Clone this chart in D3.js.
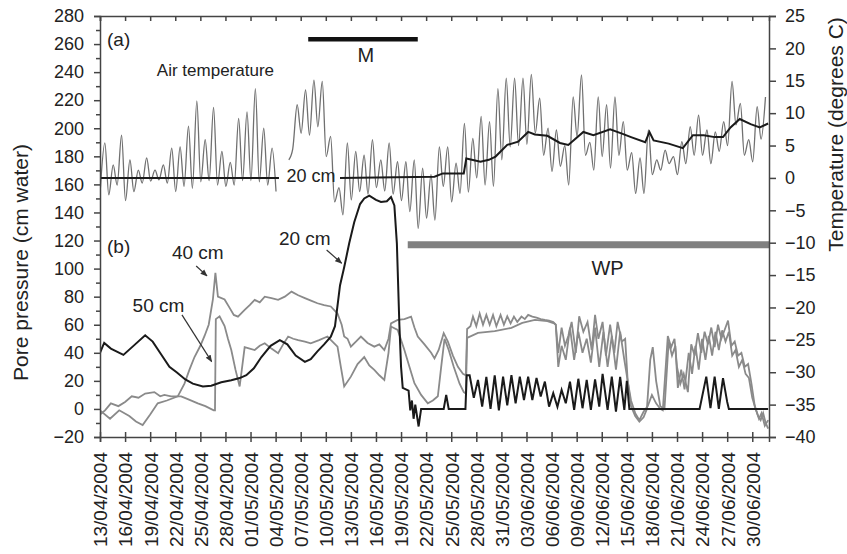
<!DOCTYPE html>
<html>
<head>
<meta charset="utf-8">
<script src="https://cdn.jsdelivr.net/npm/d3@7"></script>
<style>
  html, body { margin: 0; padding: 0; background: #fff; }
  svg { display: block; }
  text { font-family: "Liberation Sans", Arial, sans-serif; fill: #222; }
</style>
</head>
<body>
<svg id="chart" width="847" height="554"></svg>
<script>
// ---------------- DATA ----------------
const startDate = "13/04/2004";
const endDate = "02/07/2004";
const tickLabels = ["13/04/2004","16/04/2004","19/04/2004","22/04/2004","25/04/2004","28/04/2004",
  "01/05/2004","04/05/2004","07/05/2004","10/05/2004","13/05/2004","16/05/2004","19/05/2004",
  "22/05/2004","25/05/2004","28/05/2004","31/05/2004","03/06/2004","06/06/2004","09/06/2004",
  "12/06/2004","15/06/2004","18/06/2004","21/06/2004","24/06/2004","27/06/2004","30/06/2004"];
const poreTicks = [-20,0,20,40,60,80,100,120,140,160,180,200,220,240,260,280];
const tempTicks = [-40,-35,-30,-25,-20,-15,-10,-5,0,5,10,15,20,25];

// Air temperature (degrees C): daily minimum (early morning) and maximum (afternoon), from 13/04
const airMin = [-1.5,-2.6,-1.1,-3.5,-2.1,-0.8,-0.5,-0.3,-0.8,-2.1,
  -1.3,-1.6,-0.6,-0.4,-1.1,-1.3,-1.1,-0.4,-0.4,-0.6,
  -1.1,-2.1,null,4.5,6.9,6.6,7.9,3.3,-3.7,-5.7,
  -3.4,-2.1,-2.5,-1.5,-2.0,-2.5,-3.5,-5.2,-7.8,-6.2,
  -6.5,-1.3,-3.7,-2.4,-2.2,0.0,-1.1,-1.3,2.8,4.8,
  5.0,5.2,6.9,3.5,1.0,1.8,-1.1,6.4,3.5,1.2,
  3.3,1.5,3.5,1.2,-2.4,-2.4,0.5,1.2,2.2,0.5,
  2.2,3.5,3.5,2.2,4.1,5.0,8.2,3.5,2.5,6.0];
const airMax = [5.4,2.0,6.6,2.8,1.2,3.1,1.2,2.0,4.6,4.8,
  8.0,11.9,5.9,10.9,4.1,2.4,9.2,10.2,13.8,7.7,
  4.6,null,2.8,11.3,13.6,15.1,14.9,6.4,-1.5,5.4,
  4.1,3.5,5.9,2.8,5.4,2.5,2.5,2.8,1.5,0.5,
  4.8,4.8,2.3,8.4,6.1,9.5,8.7,13.8,15.4,15.4,
  15.4,16.0,12.3,7.7,7.4,5.0,12.5,15.9,5.5,12.5,
  11.3,12.5,8.7,3.9,3.1,7.4,2.8,4.3,3.3,5.6,
  7.9,9.7,7.4,7.1,8.7,14.9,11.5,5.9,11.0,12.5];

// Soil temperature at 20 cm (degrees C): [days after 13/04, value]
const soil20 = [[0,0],[21.4,0],[21.5,null],[28.7,0],[40,0.2],[41,0.7],[43.5,0.7],[43.8,3.0],[45.5,2.5],
  [46.5,2.8],[47.3,3.3],[48.7,5.1],[50,5.6],[51.2,7.1],[52,6.7],[53.5,6.5],[55,5.4],[56,5.1],
  [57.8,7.1],[59,6.6],[61,7.5],[62.5,6.8],[63.5,6.3],[65.2,5.5],[65.7,7.1],[66.2,5.8],[68,5.3],
  [69.7,4.6],[70.9,6.6],[72.2,6.6],[73.5,6.3],[74.5,6.3],[75.4,7.8],[76.5,9.1],[77.8,8.3],
  [78.9,7.8],[79.9,8.4]];

// Pore pressure (cm water): [days after 13/04, value]
const pore20 = [[0,40],[0.5,47],[1.3,43],[2.8,38.5],[4.2,46],[5.4,52.5],[6.3,48],[7.3,39],[8.3,30],
  [9.2,26],[10.2,21],[11.1,18],[12.3,16],[13.3,16.5],[14.5,19],[15.7,20.5],[16.7,22],[17.5,24],
  [18.4,29],[19.3,37],[20.4,45],[21.5,49],[22.4,46],[23.4,38],[24.5,33.5],[25.2,35.5],[26,41],
  [26.8,46],[27.6,51.5],[28.1,59],[28.7,88],[29.2,101],[29.8,118],[30.4,133],[31.1,146],[31.6,150],
  [32.2,152],[33,149],[33.6,147.5],[34.3,148],[34.8,151],[35.2,145],[35.5,118],[35.8,60],[36,30],
  [36.2,15],[36.9,13],[37.1,-1],[37.3,6],[37.5,-7],[37.7,3],[38.1,-12.5],[38.4,0],[41.1,0],
  [41.4,10],[41.7,0],[43.7,0],[43.85,24],[44.2,24],[44.7,8],[45.2,20.7],[45.7,1.6],[46.2,22.9],
  [46.7,0],[47.2,24],[47.7,-1],[48.2,23],[48.7,2.5],[49.2,24],[49.7,4],[50.2,23],[50.7,6.4],
  [51.2,23],[51.7,6.4],[52.2,22],[52.7,8.8],[53.2,19.5],[53.7,1.6],[54.2,11.2],[54.7,1.6],
  [55.2,13.5],[55.7,4],[56.2,19.5],[56.7,-0.7],[57.2,21.5],[57.7,0.5],[58.2,20.7],[58.7,-0.7],
  [59.2,21],[59.7,1.6],[60.1,25],[60.7,-0.7],[61.2,23],[61.7,-1.9],[62.2,22.9],[62.7,-0.7],
  [63.0,20],[63.3,0],[71.7,0],[72.5,23],[73.0,0.5],[73.5,23],[74.0,0],[74.5,22],[75.0,5],
  [75.2,0],[79.9,0]];
const pore40 = [[0,-1],[1.2,-7],[2.3,-1],[3.5,-5],[4.3,-9],[5.1,-11.5],[6,-4],[6.9,4],[8,6],[9.3,9],
  [10.1,18],[10.7,28],[11.3,37],[12,45],[12.5,52],[13,60],[13.5,78],[13.8,97],[14.1,80],[14.9,78],
  [15.5,72],[16,67],[16.5,65.8],[17.3,70.6],[17.9,74],[18.5,77.7],[19.1,76],[19.7,80],[20.5,79],
  [21.3,77.7],[22.1,80],[22.9,83.6],[23.7,81],[24.5,79],[25.3,77],[26,75.3],[26.8,74],[27.6,73],
  [28.4,68],[28.9,60],[29.2,51.6],[29.6,50],[30,44.4],[30.6,48],[31.2,51.6],[32,47],[32.8,44.4],
  [33.4,46],[34,42],[34.5,50],[34.8,61],[35.6,63.4],[36.4,64],[37.2,65.8],[37.6,58],[38,51.6],
  [38.8,46],[39.6,40],[40,36],[40.5,42],[41.1,54],[41.6,48],[42.2,38],[42.8,30],[43.4,25],
  [43.75,24],[43.9,57],[44.3,59],[44.6,65.8],[45,59],[45.4,68],[45.8,60],[46.2,67],[46.6,60],
  [47,67],[47.4,59],[47.9,67],[48.3,60],[48.7,66],[49.1,61],[49.5,65.8],[49.9,62],[50.4,65.8],
  [50.8,64],[51.2,67],[51.7,65.8],[52.2,65],[52.7,64],[53.2,63.4],[53.7,63],[54.2,62],[54.5,60],
  [54.8,40],[55.2,58],[55.6,45],[56.0,52],[56.4,62],[56.9,40],[57.3,66],[57.8,55],[58.3,62],
  [58.8,42],[59.2,67],[59.6,50],[60.1,62],[60.5,38],[61.0,60],[61.5,40],[61.9,62],[62.4,48],
  [62.8,50],[63.1,20],[63.5,6],[64.0,-3],[64.5,-8],[65.0,-2],[65.5,2],[66.0,10],[66.5,4],[67.0,0],
  [67.3,-1],[67.9,52],[68.3,44],[68.7,50],[69.0,30],[69.4,18],[69.8,25],[70.3,12],[70.7,46],
  [71.1,38],[71.5,54],[71.9,40],[72.3,55],[72.7,46],[73.1,58],[73.5,44],[73.9,60],[74.3,50],
  [74.8,58],[75.1,63],[75.5,45],[75.9,48],[76.3,38],[76.7,40],[77.1,30],[77.5,32],[77.9,18],
  [78.3,2],[78.7,-5],[79.0,-8],[79.3,-3],[79.6,-10],[79.9,-14]];
const pore50 = [[0,-4],[0.6,-1],[1.3,4],[2.2,2],[3,5],[3.8,9],[4.6,8],[5.4,11],[6.5,12],[7.2,9],
  [7.7,10],[8.5,9],[9.7,9],[10.5,7],[11.7,4],[12.6,2],[13.6,-1],[13.75,-1],[13.85,64],[14.3,66],
  [14.9,59],[15.3,50],[15.7,42],[16.2,28],[16.7,16],[17.0,30],[17.3,44],[17.9,43],[18.5,42],
  [19.1,45],[19.7,46.8],[20.5,43],[21.3,39.7],[21.9,46],[22.5,51.6],[23.1,50],[23.7,49],[24.5,48],
  [25.2,46.8],[26.2,49],[27.2,51.6],[27.8,48],[28.4,44.4],[28.8,30],[29.2,16],[30,23],[30.8,32],
  [31.6,37],[32.2,31],[32.8,27.8],[33.4,24],[34,20.7],[34.5,40],[34.8,58.7],[35.6,56.3],[36.4,42],
  [37,30],[37.6,18.3],[38.4,10],[39.2,4],[39.8,6],[40.4,9],[40.8,30],[41.2,50],[41.7,42],[42.3,30],
  [43,18],[43.5,12],[43.75,11],[43.9,50.6],[45.2,54.2],[47.2,55.4],[49.2,57.8],[50.5,61.3],
  [52,63.4],[53.5,62.5],[54.3,61],[54.5,60],[54.8,30],[55.2,45],[55.7,35],[56.2,58],[56.7,35],
  [57.2,55],[57.7,40],[58.2,50],[58.7,33],[59.2,58],[59.7,30],[60.2,55],[60.7,30],[61.2,52],
  [61.7,28],[62.2,55],[62.7,35],[63.1,20],[63.5,2],[64.0,-5],[64.5,-9],[65.0,-6],[65.4,0],
  [65.8,35],[66.1,44],[66.5,20],[67.0,2],[67.5,0],[68.0,48],[68.4,38],[68.8,45],[69.1,15],
  [69.5,28],[69.9,14],[70.4,40],[70.8,25],[71.2,45],[71.6,28],[72.0,50],[72.4,35],[72.8,52],
  [73.2,38],[73.6,55],[74.0,42],[74.4,56],[74.8,48],[75.2,55],[75.6,38],[76.0,42],[76.4,30],
  [76.8,35],[77.2,25],[77.6,22],[78.0,8],[78.4,0],[78.8,-7],[79.1,-3],[79.5,-12],[79.9,-8]];

// Period bars: [start day, end day, level]
const barM = {start: 24.9, end: 38.0, temp: 21.4};
const barWP = {start: 36.8, end: 80, temp: -10.3};

// ---------------- CHART ----------------
const parse = d3.utcParse("%d/%m/%Y");
const t0 = parse(startDate);
const dayToDate = d => new Date(t0.getTime() + d * 864e5);

const svg = d3.select("#chart");
const L = 100, R = 769, T = 16, B = 437;

const x = d3.scaleUtc().domain([t0, parse(endDate)]).range([L, R]);
const yP = d3.scaleLinear().domain([-20, 280]).range([B, T]);
const yT = d3.scaleLinear().domain([-40, 25]).range([B, T]);

svg.append("defs").append("clipPath").attr("id", "clip")
  .append("rect").attr("x", L).attr("y", T).attr("width", R - L).attr("height", B - T);

const plot = svg.append("g").attr("clip-path", "url(#clip)");

// air temperature series built from min / max readings
const airSeries = [];
airMin.forEach((v, i) => {
  airSeries.push([i + 0.05, v]);
  airSeries.push([i + 0.58, airMax[i]]);
});

const lineT = d3.line().defined(d => d[1] !== null)
  .x(d => x(dayToDate(d[0]))).y(d => yT(d[1])).curve(d3.curveMonotoneX);
const lineP = d3.line().defined(d => d[1] !== null)
  .x(d => x(dayToDate(d[0]))).y(d => yP(d[1]));

plot.append("path").datum(airSeries).attr("d", lineT)
  .attr("fill", "none").attr("stroke", "#707070").attr("stroke-width", 1.3);
plot.append("path").datum(soil20).attr("d", lineT.curve(d3.curveLinear))
  .attr("fill", "none").attr("stroke", "#1a1a1a").attr("stroke-width", 2);

plot.append("path").datum(pore50).attr("d", lineP)
  .attr("fill", "none").attr("stroke", "#8a8a8a").attr("stroke-width", 1.8);
plot.append("path").datum(pore40).attr("d", lineP)
  .attr("fill", "none").attr("stroke", "#8a8a8a").attr("stroke-width", 1.8);
plot.append("path").datum(pore20).attr("d", lineP)
  .attr("fill", "none").attr("stroke", "#1a1a1a").attr("stroke-width", 2);

// period bars
svg.append("line")
  .attr("x1", x(dayToDate(barM.start))).attr("x2", x(dayToDate(barM.end)))
  .attr("y1", yT(barM.temp)).attr("y2", yT(barM.temp))
  .attr("stroke", "#111").attr("stroke-width", 4.5);
svg.append("line")
  .attr("x1", x(dayToDate(barWP.start))).attr("x2", x(dayToDate(barWP.end)))
  .attr("y1", yT(barWP.temp)).attr("y2", yT(barWP.temp))
  .attr("stroke", "#808080").attr("stroke-width", 7);

// ---------------- AXES ----------------
const axisColor = "#444";
const tickDates = tickLabels.map(parse);
const fmt = d3.utcFormat("%d/%m/%Y");

// bottom
const gB = svg.append("g").attr("transform", `translate(0,${B})`)
  .call(d3.axisBottom(x).tickValues(tickDates).tickFormat(fmt).tickSizeOuter(0).tickSize(5));
gB.selectAll(".tick line").attr("y1", -5);
gB.selectAll("text")
  .attr("transform", "rotate(-90)")
  .attr("x", -15).attr("y", 0).attr("dy", "0.36em")
  .style("text-anchor", "end").style("font-size", "19px");

// top (ticks only)
const gTop = svg.append("g").attr("transform", `translate(0,${T})`)
  .call(d3.axisBottom(x).tickValues(tickDates).tickFormat("").tickSizeOuter(0).tickSize(5));

// left
const gL = svg.append("g").attr("transform", `translate(${L},0)`)
  .call(d3.axisLeft(yP).tickValues(poreTicks).tickSizeOuter(0).tickSize(6).tickPadding(10));
gL.selectAll("text").style("font-size", "18px");
svg.append("g").attr("transform", `translate(${L},0)`)
  .call(d3.axisLeft(yP).tickValues(d3.range(-10, 280, 20)).tickFormat("").tickSizeOuter(0).tickSize(4))
  .select(".domain").remove();

// right
const gR = svg.append("g").attr("transform", `translate(${R},0)`)
  .call(d3.axisRight(yT).tickValues(tempTicks).tickSizeOuter(0).tickSize(7).tickPadding(9));
gR.selectAll("text").style("font-size", "18px");

svg.selectAll(".domain, .tick line").attr("stroke", axisColor).attr("stroke-width", 1.5);
svg.selectAll(".tick text").attr("fill", "#222").style("font-family", '"Liberation Sans", Arial, sans-serif');

// axis titles
svg.append("text")
  .attr("transform", `translate(28,${(yP(-20) + yP(280)) / 2 + 36}) rotate(-90)`)
  .attr("text-anchor", "middle").style("font-size", "21px")
  .text("Pore pressure (cm water)");
svg.append("text")
  .attr("transform", `translate(843,${(yT(-40) + yT(25)) / 2 - 92}) rotate(-90)`)
  .attr("text-anchor", "middle").style("font-size", "21px")
  .text("Temperature (degrees C)");

// ---------------- ANNOTATIONS (data coordinates: day, pore pressure) ----------------
const notes = [
  {t: "(a)", d: 0.84, p: 258.7, size: 19, anchor: "start"},
  {t: "Air temperature", d: 6.8, p: 237.3, size: 17, anchor: "start"},
  {t: "20 cm", d: 22.3, p: 161.8, size: 18, anchor: "start"},
  {t: "M", d: 31.8, p: 247.3, size: 20, anchor: "middle"},
  {t: "(b)", d: 0.84, p: 111.2, size: 19, anchor: "start"},
  {t: "40 cm", d: 8.6, p: 106.9, size: 19, anchor: "start"},
  {t: "50 cm", d: 3.9, p: 69.1, size: 19, anchor: "start"},
  {t: "20 cm", d: 21.4, p: 116.9, size: 19, anchor: "start"},
  {t: "WP", d: 60.7, p: 95.5, size: 20, anchor: "middle"}
];
svg.selectAll("text.note").data(notes).enter().append("text").attr("class", "note")
  .attr("x", d => x(dayToDate(d.d))).attr("y", d => yP(d.p))
  .attr("text-anchor", d => d.anchor).style("font-size", d => d.size + "px")
  .text(d => d.t);

const arrows = [
  {d1: 11.5, p1: 101.9, d2: 12.8, p2: 94.8},
  {d1: 9.8, p1: 67, d2: 13.35, p2: 33.7},
  {d1: 27.1, p1: 113.3, d2: 28.9, p2: 103.8}
];
svg.select("defs").append("marker").attr("id", "ah")
  .attr("viewBox", "0 0 10 10").attr("refX", 9).attr("refY", 5)
  .attr("markerWidth", 6).attr("markerHeight", 6).attr("orient", "auto")
  .append("path").attr("d", "M0,1 L10,5 L0,9 Z").attr("fill", "#333");
svg.selectAll("line.arrow").data(arrows).enter().append("line").attr("class", "arrow")
  .attr("x1", d => x(dayToDate(d.d1))).attr("y1", d => yP(d.p1))
  .attr("x2", d => x(dayToDate(d.d2))).attr("y2", d => yP(d.p2))
  .attr("stroke", "#333").attr("stroke-width", 1.2).attr("marker-end", "url(#ah)");
</script>
</body>
</html>
